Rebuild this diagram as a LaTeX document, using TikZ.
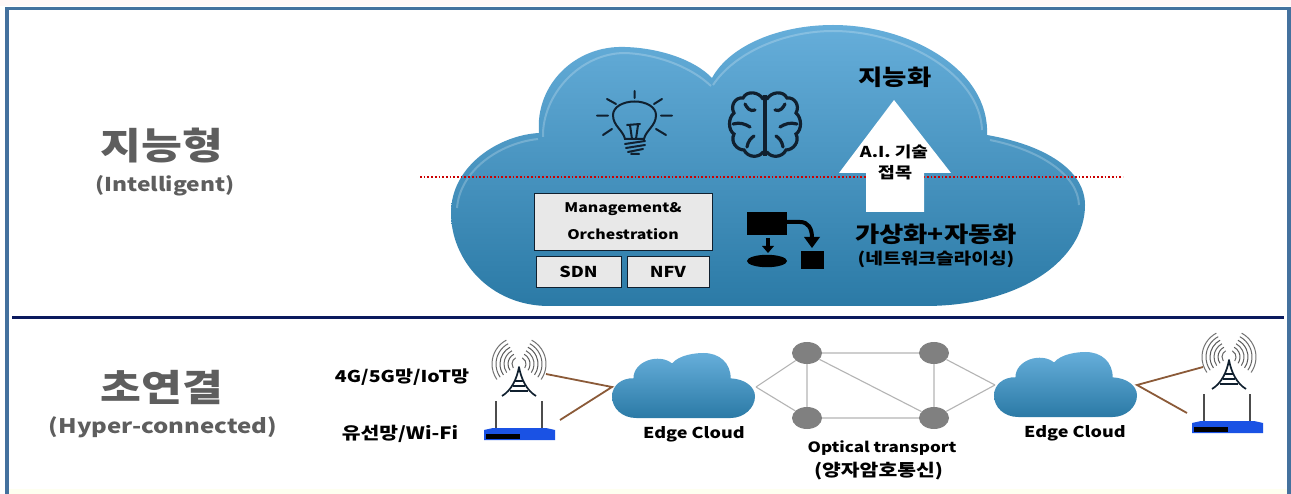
\documentclass[tikz,border=0pt]{standalone}
\usepackage{fontspec}
\setmainfont[FakeStretch=1.2]{Noto Sans CJK KR}
\usetikzlibrary{shapes.geometric}
\definecolor{frameblue}{HTML}{44719E}
\definecolor{navyline}{HTML}{0B1A5E}
\definecolor{cloudtop}{HTML}{66AEDA}
\definecolor{cloudmid}{HTML}{438FBD}
\definecolor{cloudbot}{HTML}{2B7AA6}
\definecolor{iconink}{HTML}{10202F}
\definecolor{wirebrown}{HTML}{8B5A38}
\definecolor{netgray}{HTML}{808080}
\definecolor{netline}{HTML}{B4B4B4}
\definecolor{routerblue}{HTML}{1A52E4}
\definecolor{headgray}{HTML}{5E5E5E}
\newcommand{\fs}[1]{\fontsize{#1}{#1}\selectfont\bfseries}
\tikzset{
  cloudfill/.style={top color=cloudtop,middle color=cloudmid,bottom color=cloudbot},
  headtext/.style={text=headgray,font=\fs{37},inner sep=0pt},
  subtext/.style={text=headgray,inner sep=0pt},
  lbl/.style={text=black,inner sep=0pt},
  boxlbl/.style={draw=iconink,line width=.8pt,fill=black!9,inner sep=0pt},
  netnode/.style={ellipse,fill=netgray,minimum width=30pt,minimum height=22pt,inner sep=0pt},
  netedge/.style={draw=netline,line width=1.1pt},
  wire/.style={draw=wirebrown,line width=1.8pt},
  ink/.style={draw=iconink,line width=2pt,line cap=round},
}
\newcommand{\EdgeShape}[4]{%
  \begin{scope}[shift={(#1,#2)},x=#3pt,y=-#4pt]
    \shade[top color=cloudtop,bottom color=cloudbot]
      (0,.667) .. controls (0,.5) and (.07,.38) .. (.15,.39)
      .. controls (.15,.12) and (.33,.0) .. (.42,.16)
      .. controls (.47,.03) and (.58,0) .. (.64,0)
      .. controls (.75,0) and (.83,.15) .. (.83,.39)
      .. controls (.93,.4) and (1,.52) .. (1,.667)
      .. controls (1,.85) and (.92,1) .. (.83,1) -- (.17,1)
      .. controls (.07,1) and (0,.85) .. (0,.667) -- cycle;
  \end{scope}}
\newcommand{\TowerIcon}[2]{%
  \begin{scope}[shift={(#1,#2)}]
    \foreach \r/\g in {7/60,11/65,15/60,19/65,23/60,27/55}{
      \draw[black!\g,line width=1pt] (-35:\r pt) arc (-35:62:\r pt);
      \draw[black!\g,line width=1pt] (118:\r pt) arc (118:215:\r pt);
    }
    \draw[iconink,line width=1.7pt,line join=round] (-17,32) .. controls (-7,26) and (-2,14) .. (0,3) .. controls (2,14) and (7,26) .. (17,32);
    \draw[iconink,line width=1.2pt] (-4,17) -- (4,17) (-6,22) -- (6,22) (-9,27) -- (9,27);
    \draw[iconink,line width=1pt] (-2,8) -- (2,8);
  \end{scope}}
\newcommand{\RouterIcon}[2]{%
  \begin{scope}[shift={(#1,#2)}]
    \draw[black!70,line width=1.4pt] (12,-27) -- (12,0) (58,-27) -- (58,0);
    \fill[routerblue] (0,2) -- (9,0) -- (62,0) -- (71,2) -- (71,12) -- (0,12) -- cycle;
    \fill[black] (2,6) rectangle (36,11);
  \end{scope}}
\begin{document}
\begin{tikzpicture}[x=1pt,y=-1pt]
\useasboundingbox (0,0) rectangle (1291,494);
\fill[white] (0,0) rectangle (1291,494);
\fill[red!3] (0,0) rectangle (1291,6);
\fill[green!6!yellow!6] (9,489) rectangle (1287,494);
% frame
\draw[frameblue,line width=3.5pt] (7,494) -- (7,8.5) -- (1289,8.5) -- (1289,494);
% main cloud
\shade[cloudfill]
  (539,133) .. controls (535,85) and (575,45) .. (625,47)
  .. controls (660,48) and (695,60) .. (712,78)
  .. controls (730,45) and (780,25) .. (833,25)
  .. controls (910,25) and (990,70) .. (987,135)
  .. controls (1045,145) and (1085,170) .. (1085,205)
  .. controls (1085,260) and (1020,306) .. (925,306)
  -- (549,306)
  .. controls (490,306) and (451,260) .. (451,213)
  .. controls (451,165) and (500,135) .. (539,133) -- cycle;
% cloud rim highlights
\begin{scope}[white,opacity=.22,line width=2pt]
  \draw (543,137) .. controls (542,95) and (580,53) .. (625,53) .. controls (655,54) and (690,66) .. (711,86);
  \draw (713,85) .. controls (735,52) and (785,31) .. (833,31) .. controls (905,31) and (980,75) .. (982,130);
  \draw (990,140) .. controls (1040,150) and (1078,175) .. (1079,205);
  \draw (457,208) .. controls (460,170) and (500,143) .. (538,139);
\end{scope}
% dotted line
\coordinate (dotL) at (420,177);
\coordinate (dotR) at (1123,177);
\draw[red!80!black,line width=1.7pt,dotted] (dotL) -- (dotR);
% white arrow
\fill[white] (894,100) -- (951,173) -- (924,173) -- (924,212) -- (866,212) -- (866,173) -- (839,173) -- cycle;
\node[lbl,font=\fs{15}] (ai) at (894,152) {A.I. 기술};
\node[lbl,font=\fs{15.5}] (jm) at (895,173) {접목};
\node[lbl,font=\fs{22}] (jnh) at (895,77) {지능화};
\node[lbl,font=\fs{22}] (gsh) at (936,234) {가상화+자동화};
\node[lbl,font=\fs{16}] (nsl) at (936,259) {(네트워크슬라이싱)};
% boxes
\node[boxlbl,minimum width=178pt,minimum height=57pt,align=center,font=\fontsize{13.2}{27}\selectfont\bfseries] (mo) at (623,221.5) {Management\&\\Orchestration};
\node[boxlbl,minimum width=85pt,minimum height=31pt,font=\fs{15}] (sdn) at (578.5,271.5) {SDN};
\node[boxlbl,minimum width=82pt,minimum height=31pt,font=\fs{15}] (nfv) at (668,271.5) {NFV};
% bulb
\draw[ink] (625,139) .. controls (623,130) and (613,126) .. (613,115) .. controls (613,107) and (623,101.5) .. (634.7,101.5) .. controls (646,101.5) and (656,107) .. (656,115) .. controls (656,126) and (646,130) .. (644,139) -- cycle;
\draw[ink] (634.7,91) -- (634.7,98) (597,115.7) -- (608,115.7) (661,115.7) -- (672,115.7)
  (607,99) -- (616,104) (654,104) -- (662,99) (603,135) -- (612,129) (656,129) -- (666,135);
\draw[ink] (627,125) -- (640,124) (630,125) -- (632,139) (638,125) -- (636,139);
\draw[ink] (625,144) -- (645,141) (626,148) -- (645,145) (628,152) -- (643,149) (631,154) -- (639,154);
% brain
\foreach \sgn in {1,-1}{
\begin{scope}[shift={(765,0)},xscale=\sgn,ink,line width=3.2pt]
  \draw (2,99) .. controls (6,92) and (18,90) .. (22,98) .. controls (30,97) and (35,106) .. (31,113)
    .. controls (37,118) and (37,130) .. (31,134) .. controls (35,142) and (28,150) .. (21,150)
    .. controls (17,158) and (6,158) .. (2,152);
  \draw (10,110) .. controls (15,112) and (18,108) .. (20,104);
  \draw (32,124) .. controls (25,122) and (20,124) .. (15,127);
  \draw (11,136) .. controls (14,138) and (17,141) .. (18,147);
\end{scope}}
\draw[iconink,line width=3.2pt] (765,95) -- (765,156);
% flow icon
\fill[black] (747,212) rectangle (787,235);
\fill[black] (767,261) ellipse (20pt and 6.2pt);
\fill[black] (801,251) rectangle (824,269);
\draw[black,line width=4pt] (786,222) -- (800,222) .. controls (808,222) and (812,228) .. (812,238);
\fill[black] (804,237) -- (820,237) -- (812,248) -- cycle;
\draw[black,line width=3.5pt] (768,238) -- (768,247);
\fill[black] (762,246) -- (774,246) -- (768,253) -- cycle;
% headings
\node[headtext] (h1) at (162,146) {지능형};
\node[subtext,font=\fs{19}] (h1s) at (165,186) {(Intelligent)};
\node[headtext] (h2) at (162,387) {초연결};
\node[subtext,font=\fs{20}] (h2s) at (163,427) {(Hyper-connected)};
% divider
\coordinate (divL) at (12,317.5);
\coordinate (divR) at (1284,317.5);
\draw[navyline,line width=3pt] (divL) -- (divR);
% bottom row labels
\node[lbl,font=\fs{16.3}] (l4g) at (402,377) {4G/5G망/IoT망};
\node[lbl,font=\fs{17}] (lwf) at (400,434) {유선망/Wi-Fi};
\node[lbl,font=\fs{15}] (ec1) at (694,434) {Edge Cloud};
\node[lbl,font=\fs{15}] (ec2) at (1075,433) {Edge Cloud};
\node[lbl,font=\fs{14.2}] (opt) at (882,448) {Optical transport};
\node[lbl,font=\fs{17}] (qkd) at (878.5,471) {(양자암호통신)};
% left icons
\TowerIcon{519}{364}
\RouterIcon{484}{428}
\coordinate (twL) at (546,374);
\coordinate (rtL) at (560,420);
\coordinate (hubL) at (612,387);
\draw[wire] (twL) -- (hubL) -- (rtL);
\EdgeShape{612}{353}{143}{65}
% network
\coordinate (nwL) at (756,387);
\coordinate (nwR) at (995,385);
\node[netnode] (n1) at (807,353) {};
\node[netnode] (n2) at (934,353) {};
\node[netnode] (n3) at (807,418) {};
\node[netnode] (n4) at (934,418) {};
\path[netedge] (nwL) -- (n1) (nwL) -- (n3) (n1) -- (n2) (n3) -- (n4) (n1) -- (n3) (n2) -- (n4) (n1) -- (n4) (n2) -- (nwR) (n4) -- (nwR);
\EdgeShape{994}{352}{143}{65}
% right icons
\TowerIcon{1229}{357}
\RouterIcon{1192}{421}
\coordinate (twR) at (1203,367);
\coordinate (rtR) at (1187,413);
\coordinate (hubR) at (1137,385);
\draw[wire] (twR) -- (hubR) -- (rtR);
\end{tikzpicture}
\end{document}
